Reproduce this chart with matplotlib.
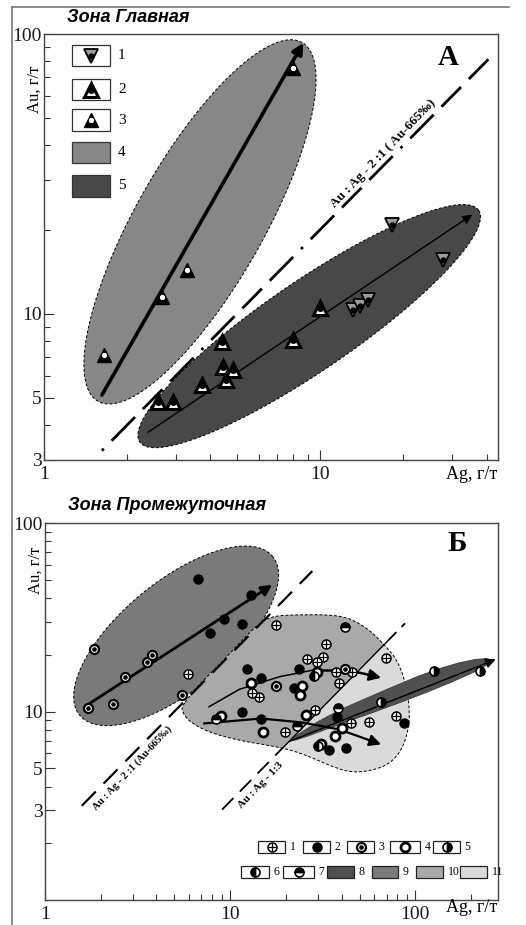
import numpy as np
import matplotlib.pyplot as plt
from matplotlib.patches import Rectangle, Polygon
from matplotlib.lines import Line2D
from matplotlib.ticker import FixedLocator, FixedFormatter, NullFormatter

plt.rcParams['font.family'] = ['Liberation Serif', 'DejaVu Serif']

# ---------------- panel A (Зона Главная) ----------------
# 1 - inverted triangles, 2 - triangles with dot, 3 - black triangles
a1_ag = [13.1, 13.9, 14.9, 27.9, 18.2]
a1_au = [10.3, 10.7, 11.2, 15.6, 20.8]
a2_ag = [2.59, 2.93, 3.74, 4.42, 4.46, 4.84, 4.56, 7.98, 10.0]
a2_au = [4.83, 4.83, 5.57, 7.9, 6.45, 6.3, 5.79, 8.06, 10.5]
a3_ag = [1.65, 2.68, 3.30, 7.98]
a3_au = [7.1, 11.5, 14.3, 75.6]
# trend arrows: (Ag, Au) start and end
a_trend4 = [(1.62, 5.12), (8.68, 93.0)]
a_trend5 = [(2.38, 3.77), (35.5, 22.6)]
# fields: centre Ag, centre Au, half axes (decades), angle
a_field4 = (3.67, 21.3, 0.74, 0.23, 60)
a_field5 = (9.12, 9.03, 0.74, 0.16, 34)
a_ratio_ag = [1.62, 40.6]

# ---------------- panel B (Зона Промежуточная) ----------------
b1_ag = [5.93, 17.7, 33.1, 26.0, 31.8, 29.5, 37.3, 45.6, 38.9, 14.4, 13.2, 19.8, 28.9, 69.4, 45.1, 56.4, 79.1]
b1_au = [15.9, 28.9, 22.9, 19.1, 19.5, 18.2, 16.3, 16.3, 14.2, 12.0, 12.6, 7.74, 10.2, 19.3, 8.64, 8.75, 9.41]
b2_ag = [6.72, 13.0, 9.29, 11.6, 7.8, 12.4, 23.6, 14.7, 22.2, 11.6, 14.7, 38.0, 34.3, 42.3, 87.5]
b2_au = [50.6, 41.6, 31.0, 29.2, 26.2, 16.9, 16.9, 15.1, 13.4, 9.9, 9.18, 9.3, 6.22, 6.37, 8.64]
b3_ag = [1.84, 1.71, 2.33, 2.71, 3.56, 3.79, 5.50, 17.7, 41.9]
b3_au = [21.5, 10.5, 11.0, 15.3, 18.4, 20.0, 12.2, 13.6, 16.9]
b4_ag = [29.5, 13.0, 24.4, 23.9, 8.93, 15.1, 25.7, 37.0, 40.3, 31.0]
b4_au = [16.3, 14.2, 13.7, 12.3, 9.5, 7.74, 9.64, 7.37, 8.13, 6.69]
b5_ag = [126, 223, 65.4]
b5_au = [16.5, 16.5, 11.2]
b6_ag = [28.5, 29.9]
b6_au = [15.5, 6.53]
b7_ag = [41.5, 8.41, 23.0, 38.5]
b7_au = [28.2, 9.18, 8.33, 10.5]

b_field9 = (5.11, 25.2, 0.67, 0.29, 38.7)
b_trend9 = [(1.71, 10.9), (16.9, 47.0)]
b_up_ag = [7.70, 11.2, 18.5, 29.1, 42.3, 65.4]
b_up_au = [10.6, 13.1, 15.3, 16.7, 16.7, 15.1]
b_lo_ag = [7.25, 14.7, 24.4, 38.9, 65.4]
b_lo_au = [8.64, 9.18, 8.75, 8.03, 6.69]
b_field8_ag = [20.3, 34.3, 63.9, 119, 196, 262, 236, 135, 72.3, 38.8, 23.6]
b_field8_au = [6.94, 9.64, 12.6, 16.3, 18.8, 19.2, 17.1, 13.4, 10.6, 8.53, 7.11]
b_trend8 = [(20.9, 6.94), (272, 18.9)]
blob_ag = [5.50, 6.00, 7.24, 9.28, 11.9, 14.7, 17.3, 23.6, 34.3, 44.0, 56.4, 68.0, 80.0, 89.4,
           92.8, 92.8, 85.1, 72.3, 56.4, 44.0, 34.3, 26.7, 20.8, 16.2, 11.2, 7.70, 6.00, 5.50]
blob_au = [10.6, 12.0, 14.8, 18.8, 24.6, 29.9, 32.2, 32.6, 32.6, 31.4, 27.2, 22.6, 18.8, 13.9,
           10.9, 8.33, 6.29, 5.24, 4.82, 4.76, 5.18, 5.78, 6.29, 6.61, 7.02, 7.74, 8.85, 10.0]
b_r21_ag = [1.58, 27.8]
b_r13_dash1 = [9.05, 19.0]
b_r13_solid = [19.0, 72.0]
b_r13_dash2 = [72.0, 88.0]

c4, c5 = '#878787', '#484848'
c8, c9, c10, c11 = '#505050', '#7a7a7a', '#a9a9a9', '#dadada'


def ellipse_pts(cx, cy, a, b, ang, n=240):
    t = np.linspace(0, 2 * np.pi, n)
    th = np.radians(ang)
    u, v = a * np.cos(t), b * np.sin(t)
    lx = np.log10(cx) + u * np.cos(th) - v * np.sin(th)
    ly = np.log10(cy) + u * np.sin(th) + v * np.cos(th)
    return 10 ** lx, 10 ** ly


def smooth(xs, ys, it=3):
    p = np.column_stack([np.log10(xs), np.log10(ys)])
    for _ in range(it):
        q = np.roll(p, -1, axis=0)
        p = np.column_stack([0.75 * p + 0.25 * q, 0.25 * p + 0.75 * q]).reshape(-1, 2)
    return 10 ** p[:, 0], 10 ** p[:, 1]


def tri(ax, x, y, kind, **kw):
    if kind == 1:
        ax.plot(x, y, 'v', ms=10, mfc='#9c9c9c', mec='k', mew=1.3, ls='none', zorder=5, **kw)
        ax.plot(x, y, 'o', ms=3.5, color='k', ls='none', zorder=6, **kw)
    elif kind == 2:
        ax.plot(x, y, '^', ms=10, mfc='white', mec='k', mew=2.2, ls='none', zorder=5, **kw)
        ax.plot(x, y, 'o', ms=4, color='k', ls='none', zorder=6, **kw)
    else:
        ax.plot(x, y, '^', ms=10, color='k', ls='none', zorder=5, **kw)
        ax.plot(x, y, 'o', ms=2.8, color='white', ls='none', zorder=6, **kw)


def circ(ax, x, y, kind, **kw):
    ms = 6.5
    if kind == 1:
        ax.plot(x, y, 'o', ms=ms, mfc='white', mec='k', mew=1.1, ls='none', zorder=5, **kw)
        ax.plot(x, y, '+', ms=5.4, color='k', mew=0.9, ls='none', zorder=6, **kw)
    elif kind == 2:
        ax.plot(x, y, 'o', ms=ms, color='k', ls='none', zorder=5, **kw)
    elif kind == 3:
        ax.plot(x, y, 'o', ms=ms, mfc='white', mec='k', mew=1.6, ls='none', zorder=5, **kw)
        ax.plot(x, y, 'o', ms=2.3, color='k', ls='none', zorder=6, **kw)
    elif kind == 4:
        ax.plot(x, y, 'o', ms=ms, mfc='white', mec='k', mew=2.0, ls='none', zorder=5, **kw)
    elif kind == 5:
        ax.plot(x, y, 'o', ms=ms, fillstyle='right', mfc='k', mfcalt='white', mec='k', mew=1.2,
                ls='none', zorder=5, **kw)
    elif kind == 6:
        ax.plot(x, y, 'o', ms=ms, fillstyle='left', mfc='k', mfcalt='white', mec='k', mew=1.2,
                ls='none', zorder=5, **kw)
    else:
        ax.plot(x, y, 'o', ms=ms, fillstyle='top', mfc='k', mfcalt='white', mec='k', mew=1.2,
                ls='none', zorder=5, **kw)


def arrow(ax, p0, p1, lw, ms):
    ax.annotate('', xy=p1, xytext=p0,
                arrowprops=dict(arrowstyle='-|>', lw=lw, color='k', mutation_scale=ms,
                                shrinkA=0, shrinkB=0), zorder=4)


def style_axes(ax, xmaj, xmin, ymaj, ymin, xlim, ylim):
    ax.set_xscale('log')
    ax.set_yscale('log')
    ax.set_xlim(*xlim)
    ax.set_ylim(*ylim)
    ax.xaxis.set_major_locator(FixedLocator(xmaj))
    ax.xaxis.set_major_formatter(FixedFormatter([str(v) for v in xmaj]))
    ax.xaxis.set_minor_locator(FixedLocator(xmin))
    ax.xaxis.set_minor_formatter(NullFormatter())
    ax.yaxis.set_major_locator(FixedLocator(ymaj))
    ax.yaxis.set_major_formatter(FixedFormatter([str(v) for v in ymaj]))
    ax.yaxis.set_minor_locator(FixedLocator(ymin))
    ax.yaxis.set_minor_formatter(NullFormatter())
    ax.tick_params(which='both', direction='in', colors='#333333', width=0.8, labelsize=14,
                   labelcolor='#1a1a1a')
    ax.tick_params(which='major', length=7)
    ax.tick_params(which='minor', length=4)
    ax.tick_params(axis='y', pad=1.5)
    ax.tick_params(axis='x', pad=4)
    for s in ax.spines.values():
        s.set_color('#444444')
        s.set_linewidth(1.0)


fig = plt.figure(figsize=(5.26, 9.25), dpi=100)
axA = fig.add_axes([44 / 526, 1 - 460 / 925, 454 / 526, 426 / 925])
axB = fig.add_axes([45 / 526, 1 - 900 / 925, 453 / 526, 377 / 925])

# ----- panel A -----
style_axes(axA, [1, 10], [2, 3, 4, 5, 6, 7, 8, 9, 20, 30, 40],
           [3, 5, 10, 100], [4, 6, 7, 8, 9, 20, 30, 40, 50, 60, 70, 80, 90], (1, 44), (3, 100))
for fld, col in [(a_field4, c4), (a_field5, c5)]:
    ex, ey = ellipse_pts(*fld)
    axA.fill(ex, ey, facecolor=col, edgecolor='k', lw=0.7, ls=(0, (3, 2)), zorder=1)
rx = np.array(a_ratio_ag)
axA.plot(rx, 2 * rx, color='k', lw=2.0, ls=(0, (1, 4, 12, 4, 10, 4, 12, 4)), zorder=2)
axA.text(16.9, 37.5, 'Au : Ag - 2 :1 ( Au-665‰)', rotation=46, ha='center', va='center',
         fontsize=9.5, fontweight='bold', rotation_mode='anchor', zorder=3)
arrow(axA, a_trend4[0], a_trend4[1], 2.6, 16)
arrow(axA, a_trend5[0], a_trend5[1], 1.0, 14)
tri(axA, a1_ag, a1_au, 1)
tri(axA, a2_ag, a2_au, 2)
tri(axA, a3_ag, a3_au, 3)
axA.text(0.89, 0.945, 'А', transform=axA.transAxes, ha='center', va='center', fontsize=21,
         fontweight='bold')

# legend A
rows = [0.9495, 0.8697, 0.7981, 0.7218, 0.6432]
for i, yy in enumerate(rows):
    fc = 'white'
    if i == 3:
        fc = c4
    if i == 4:
        fc = c5
    axA.add_patch(Rectangle((0.0618, yy - 0.0247), 0.084, 0.0494, transform=axA.transAxes,
                            facecolor=fc, edgecolor='#333333', lw=0.9, zorder=7, clip_on=False))
    axA.text(0.163, yy, str(i + 1), transform=axA.transAxes, ha='left', va='center', fontsize=11,
             zorder=7)
    if i < 3:
        tri(axA, [0.1038], [yy], i + 1, transform=axA.transAxes, clip_on=False)
for ln in axA.lines[-6:]:
    ln.set_zorder(8)

# ----- panel B -----
style_axes(axB, [1, 10, 100], [2, 3, 4, 5, 6, 7, 8, 9, 20, 30, 40, 50, 60, 70, 80, 90, 200],
           [3, 5, 10, 100], [2, 4, 6, 7, 8, 9, 20, 30, 40, 50, 60, 70, 80, 90], (1, 280), (1, 100))
ex, ey = ellipse_pts(*b_field9)
axB.fill(ex, ey, facecolor=c9, edgecolor='k', lw=0.7, ls=(0, (3, 2)), zorder=1)
sx, sy = smooth(blob_ag, blob_au)
axB.fill(sx, sy, facecolor=c11, edgecolor='none', zorder=1)
split = Polygon([(0.5, 0.5 / 3), (2000, 2000 / 3), (0.5, 2000)], closed=True,
                transform=axB.transData)
p10 = axB.fill(sx, sy, facecolor=c10, edgecolor='none', zorder=1.1)[0]
p10.set_clip_path(split)
axB.fill(sx, sy, facecolor='none', edgecolor='k', lw=0.7, ls=(0, (3, 2)), zorder=1.2)
wx, wy = smooth(b_field8_ag, b_field8_au, 1)
axB.fill(wx, wy, facecolor=c8, edgecolor='#333333', lw=0.5, zorder=1.5)

r21 = np.array(b_r21_ag)
axB.plot(r21, 2 * r21, color='k', lw=1.6, ls=(0, (9, 5)), zorder=2)
for seg, st in [(b_r13_dash1, (0, (9, 5))), (b_r13_solid, '-'), (b_r13_dash2, (0, (6, 4)))]:
    s = np.array(seg)
    axB.plot(s, s / 3, color='k', lw=1.3 if st != '-' else 1.0, ls=st, zorder=2)
axB.text(2.95, 5.0, 'Au : Ag - 2 :1 (Au-665‰)', rotation=47, ha='center', va='center',
         fontsize=7.5, fontweight='bold', rotation_mode='anchor', zorder=3)
axB.text(14.6, 4.05, 'Au : Ag - 1:3', rotation=46, ha='center', va='center',
         fontsize=8, fontweight='bold', rotation_mode='anchor', zorder=3)

arrow(axB, b_trend9[0], b_trend9[1], 2.0, 16)
arrow(axB, b_trend8[0], b_trend8[1], 1.0, 15)
axB.plot(b_up_ag[:4], b_up_au[:4], color='k', lw=1.1, zorder=4)
axB.plot(b_up_ag[3:-1], b_up_au[3:-1], color='k', lw=1.8, zorder=4)
arrow(axB, (b_up_ag[-2], b_up_au[-2]), (b_up_ag[-1], b_up_au[-1]), 1.8, 17)
axB.plot(b_lo_ag[:-1], b_lo_au[:-1], color='k', lw=1.6, zorder=4)
arrow(axB, (b_lo_ag[-2], b_lo_au[-2]), (b_lo_ag[-1], b_lo_au[-1]), 1.6, 17)

for k, (xs, ys) in enumerate([(b1_ag, b1_au), (b2_ag, b2_au), (b3_ag, b3_au), (b4_ag, b4_au),
                              (b5_ag, b5_au), (b6_ag, b6_au), (b7_ag, b7_au)]):
    circ(axB, xs, ys, k + 1)
axB.text(0.909, 0.945, 'Б', transform=axB.transAxes, ha='center', va='center', fontsize=21,
         fontweight='bold')

# legend B (pixel boxes converted to axes fractions)
leg_rows = [
    (847, [(258, 285), (303, 330), (347, 374), (390, 420), (433, 460)]),
    (872, [(241, 269), (283, 314), (327, 354), (372, 398), (416, 443), (460, 487)]),
]
fills = {8: c8, 9: c9, 10: c10, 11: c11}
n = 1
for py, boxes in leg_rows:
    yy = (900 - py) / 377
    for x0, x1 in boxes:
        fx0 = (x0 - 45) / 453
        fx1 = (x1 - 45) / 453
        axB.add_patch(Rectangle((fx0, yy - 0.0165), fx1 - fx0, 0.033, transform=axB.transAxes,
                                facecolor=fills.get(n, 'white'), edgecolor='#222222', lw=0.9,
                                zorder=7, clip_on=False))
        axB.text(fx1 + 0.01, yy, str(n), transform=axB.transAxes, ha='left', va='center',
                 fontsize=8.5, zorder=7)
        if n <= 7:
            circ(axB, [(fx0 + fx1) / 2], [yy], n, transform=axB.transAxes, clip_on=False)
            for ln in axB.lines[-2:]:
                ln.set_zorder(8)
        n += 1

# axis labels
for ax, ly, xly in [(axA, 0.871, -0.035), (axB, 0.875, -0.0186)]:
    ax.text(-0.02, ly, 'Au, г/т', transform=ax.transAxes, rotation=90, ha='center',
            va='center', fontsize=12)
    ax.text(0.998, xly, 'Ag, г/т', transform=ax.transAxes, ha='right', va='center',
            fontsize=13)

fig.text(67 / 526, 1 - 18 / 925, 'Зона Главная', fontsize=13, fontweight='bold',
         style='italic', family=['Liberation Sans', 'DejaVu Sans'], ha='left', va='center')
fig.text(68 / 526, 1 - 505 / 925, 'Зона Промежуточная', fontsize=13, fontweight='bold',
         style='italic', family=['Liberation Sans', 'DejaVu Sans'], ha='left', va='center')

# outer frame
fig.add_artist(Line2D([12 / 526, 12 / 526], [0, 1 - 7 / 925], color='#777777', lw=1.2))
fig.add_artist(Line2D([12 / 526, 509 / 526], [1 - 7 / 925, 1 - 7 / 925], color='#777777', lw=1.2))

fig.savefig('out.png', dpi=100)
